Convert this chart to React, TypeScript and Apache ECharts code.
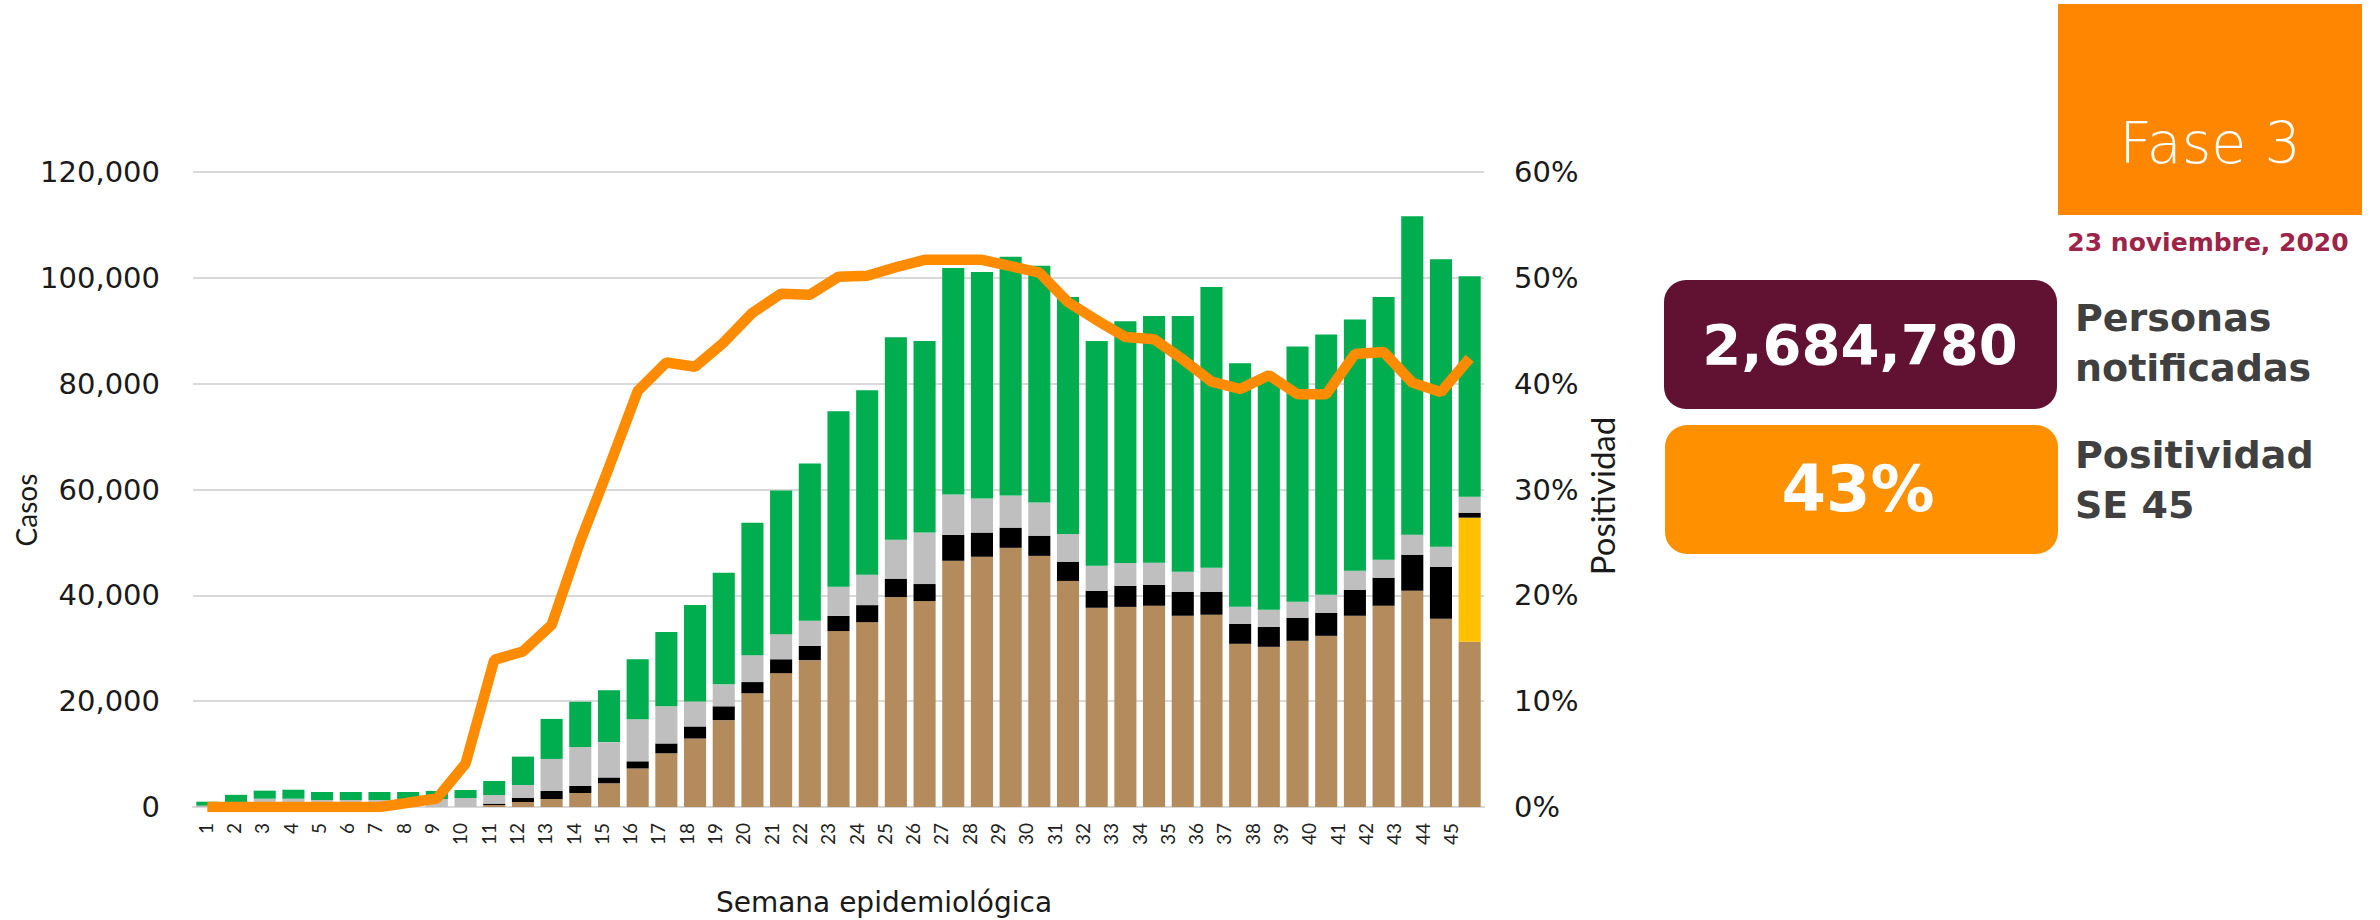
import React, { useEffect, useRef } from "react";
import * as echarts from "echarts";

const semanas = [
  "1", "2", "3", "4", "5", "6", "7", "8", "9", "10",
  "11", "12", "13", "14", "15", "16", "17", "18", "19", "20",
  "21", "22", "23", "24", "25", "26", "27", "28", "29", "30",
  "31", "32", "33", "34", "35", "36", "37", "38", "39", "40",
  "41", "42", "43", "44", "45",
];

// Stacked bar components (Casos), bottom to top
const positivos = [
  0, 0, 0, 0, 0, 0, 0, 0, 0, 0,
  380, 950, 1510, 2650, 4480, 7280, 10150, 12940, 16410, 21490,
  25300, 27750, 33250, 34940, 39680, 38920, 46530, 47290, 48980, 47460,
  42720, 37650, 37820, 38030, 36140, 36330, 30840, 30270, 31410, 32350,
  36140, 38030, 40870, 35570, 31220,
];
const pendientes = [
  0, 0, 0, 0, 0, 0, 0, 0, 0, 0,
  0, 0, 0, 0, 0, 0, 0, 0, 0, 0,
  0, 0, 0, 0, 0, 0, 0, 0, 0, 0,
  0, 0, 0, 0, 0, 0, 0, 0, 0, 0,
  0, 0, 0, 0, 23460,
];
const defunciones = [
  0, 0, 0, 0, 0, 0, 0, 0, 0, 0,
  250, 750, 1520, 1320, 1100, 1350, 1860, 2280, 2620, 2120,
  2620, 2710, 2880, 3210, 3470, 3210, 4910, 4570, 3810, 3810,
  3640, 3210, 3980, 3970, 4540, 4350, 3780, 3790, 4350, 4350,
  4920, 5300, 6810, 9840, 940,
];
const sinMuestra = [
  250, 600, 1570, 1570, 1320, 1320, 1320, 1320, 1510, 1700,
  1640, 2460, 6050, 7380, 6680, 7950, 7020, 4740, 4150, 5080,
  4740, 4740, 5500, 5750, 7360, 9730, 7610, 6430, 6090, 6260,
  5250, 4740, 4310, 4160, 3780, 4540, 3220, 3210, 3030, 3410,
  3590, 3400, 3780, 3780, 3030,
];
const negativos = [
  750, 1700, 1520, 1700, 1520, 1520, 1520, 1520, 1520, 1510,
  2650, 5360, 7570, 8520, 9810, 11340, 14040, 18190, 21070, 25040,
  27160, 29690, 33160, 34860, 38240, 36210, 42810, 42810, 45090, 44750,
  44750, 42470, 45680, 46610, 48310, 53040, 46040, 43230, 48240, 49190,
  47490, 49630, 60170, 54300, 41630,
];

// Positividad (%)
const positividad = [
  0, 0, 0, 0, 0, 0, 0, 0.4, 0.8, 4.1,
  13.9, 14.7, 17.2, 25.1, 32.1, 39.3, 42.0, 41.6, 43.9, 46.7,
  48.5, 48.4, 50.1, 50.2, 51.0, 51.7, 51.7, 51.7, 51.1, 50.5,
  47.7, 46.0, 44.4, 44.2, 42.3, 40.2, 39.5, 40.8, 39.0, 39.0,
  42.8, 43.0, 40.1, 39.2, 42.4,
];

const personasNotificadas = "2,684,780";
const positividadActual = "43%";
const fecha = "23 noviembre, 2020";
const fase = "Fase 3";

const GRID_LEFT = 193;
const GRID_TOP = 172;
const GRID_W = 1291;
const GRID_H = 635;

export default function App() {
  const ref = useRef<HTMLDivElement>(null);

  useEffect(() => {
    document.body.style.margin = "0";
    const chart = echarts.init(ref.current as HTMLDivElement, null, { renderer: "svg" });

    const barBase = {
      type: "bar",
      stack: "casos",
      xAxisIndex: 0,
      yAxisIndex: 0,
      barCategoryGap: "23%",
    };

    const panelText = (text: string, x: number, y: number) => ({
      type: "text",
      x,
      y,
      style: {
        text,
        fill: "#404040",
        fontFamily: "DejaVu Sans",
        fontWeight: "bold",
        fontSize: 38,
        textAlign: "left",
        textVerticalAlign: "middle",
        align: "left",
        verticalAlign: "middle",
      },
    });

    chart.setOption({
      animation: false,
      backgroundColor: "#ffffff",
      grid: [
        { left: GRID_LEFT, top: GRID_TOP, width: GRID_W, height: GRID_H },
        { left: 191, top: GRID_TOP, width: 1273.5, height: GRID_H },
      ],
      xAxis: [
        {
          type: "category",
          gridIndex: 0,
          data: semanas,
          axisLine: { show: true, lineStyle: { color: "#d9d9d9", width: 2 } },
          axisTick: { show: false },
          axisLabel: { show: false },
        },
        {
          type: "category",
          gridIndex: 1,
          data: semanas,
          axisLine: { show: false },
          axisTick: { show: false },
          axisLabel: {
            show: true,
            rotate: 90,
            margin: 16,
            fontFamily: "Lato",
            fontSize: 19,
            color: "#222222",
            interval: 0,
          },
        },
      ],
      yAxis: [
        {
          type: "value",
          gridIndex: 0,
          min: 0,
          max: 120000,
          interval: 20000,
          axisLine: { show: false },
          axisTick: { show: false },
          splitLine: { show: true, lineStyle: { color: "#d9d9d9", width: 2 } },
          axisLabel: {
            margin: 33,
            fontFamily: "DejaVu Sans",
            fontSize: 29,
            color: "#1a1a1a",
            formatter: (v: number) => v.toLocaleString("en-US"),
          },
        },
        {
          type: "value",
          gridIndex: 0,
          position: "right",
          min: 0,
          max: 60,
          interval: 10,
          axisLine: { show: false },
          axisTick: { show: false },
          splitLine: { show: false },
          axisLabel: {
            margin: 30,
            fontFamily: "DejaVu Sans",
            fontSize: 29,
            color: "#1a1a1a",
            formatter: "{value}%",
          },
        },
        {
          type: "value",
          gridIndex: 1,
          show: false,
          min: 0,
          max: 1,
        },
      ],
      series: [
        { ...barBase, name: "Positivos", data: positivos, itemStyle: { color: "#b48b5c" } },
        { ...barBase, name: "Pendientes", data: pendientes, itemStyle: { color: "#ffc000" } },
        { ...barBase, name: "Defunciones", data: defunciones, itemStyle: { color: "#000000" } },
        { ...barBase, name: "Sin muestra", data: sinMuestra, itemStyle: { color: "#bfbfbf" } },
        { ...barBase, name: "Negativos", data: negativos, itemStyle: { color: "#00ae4f" } },
        {
          type: "line",
          name: "Positividad",
          xAxisIndex: 0,
          yAxisIndex: 1,
          data: positividad,
          symbol: "none",
          z: 10,
          lineStyle: { color: "#ff8c00", width: 10.5 },
        },
      ],
      graphic: [
        {
          type: "text",
          x: 26,
          y: 510,
          rotation: Math.PI / 2,
          style: {
            text: "Casos",
            fill: "#1a1a1a",
            fontFamily: "Lato",
            fontSize: 28,
            textAlign: "center",
            textVerticalAlign: "middle",
            align: "center",
            verticalAlign: "middle",
          },
        },
        {
          type: "text",
          x: 1602,
          y: 496,
          rotation: Math.PI / 2,
          style: {
            text: "Positividad",
            fill: "#1a1a1a",
            fontFamily: "Lato",
            fontSize: 33,
            textAlign: "center",
            textVerticalAlign: "middle",
            align: "center",
            verticalAlign: "middle",
          },
        },
        {
          type: "text",
          x: 884,
          y: 902,
          style: {
            text: "Semana epidemiológica",
            fill: "#1a1a1a",
            fontFamily: "DejaVu Sans",
            fontSize: 28,
            textAlign: "center",
            textVerticalAlign: "middle",
            align: "center",
            verticalAlign: "middle",
          },
        },
        {
          type: "rect",
          shape: { x: 2058, y: 4, width: 304, height: 211 },
          style: { fill: "#ff8600" },
        },
        {
          type: "text",
          x: 2210,
          y: 143,
          style: {
            text: fase,
            fill: "#ffffff",
            fontFamily: "DejaVu Sans",
            fontWeight: 200,
            fontSize: 57,
            textAlign: "center",
            textVerticalAlign: "middle",
            align: "center",
            verticalAlign: "middle",
          },
        },
        {
          type: "text",
          x: 2208,
          y: 242,
          style: {
            text: fecha,
            fill: "#9d2449",
            fontFamily: "DejaVu Sans",
            fontWeight: "bold",
            fontSize: 25,
            textAlign: "center",
            textVerticalAlign: "middle",
            align: "center",
            verticalAlign: "middle",
          },
        },
        {
          type: "rect",
          shape: { x: 1664, y: 280, width: 393, height: 129, r: 22 },
          style: { fill: "#611232" },
        },
        {
          type: "text",
          x: 1860,
          y: 344,
          style: {
            text: personasNotificadas,
            fill: "#ffffff",
            fontFamily: "DejaVu Sans",
            fontWeight: "bold",
            fontSize: 56,
            textAlign: "center",
            textVerticalAlign: "middle",
            align: "center",
            verticalAlign: "middle",
          },
        },
        {
          type: "rect",
          shape: { x: 1665, y: 425, width: 393, height: 129, r: 22 },
          style: { fill: "#ff9100" },
        },
        {
          type: "text",
          x: 1858,
          y: 489,
          style: {
            text: positividadActual,
            fill: "#ffffff",
            fontFamily: "DejaVu Sans",
            fontWeight: "bold",
            fontSize: 64,
            textAlign: "center",
            textVerticalAlign: "middle",
            align: "center",
            verticalAlign: "middle",
          },
        },
        panelText("Personas", 2075, 318),
        panelText("notificadas", 2075, 368),
        panelText("Positividad", 2075, 455),
        panelText("SE 45", 2075, 505),
      ],
    });

    return () => chart.dispose();
  }, []);

  return <div ref={ref} style={{ width: 2380, height: 920 }} />;
}
